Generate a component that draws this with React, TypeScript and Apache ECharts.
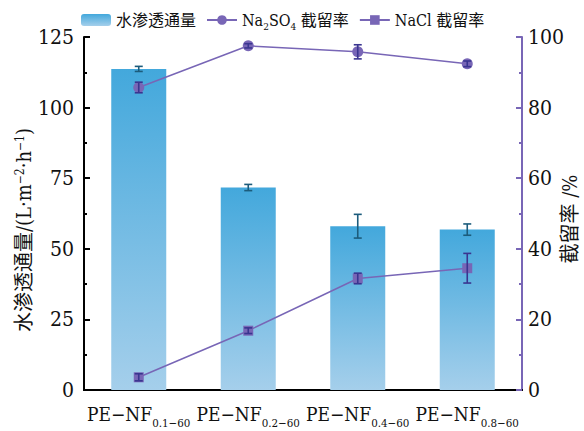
import React, { useEffect, useRef } from "react";
import * as echarts from "echarts";

const categories = ["PE−NF0.1−60", "PE−NF0.2−60", "PE−NF0.4−60", "PE−NF0.8−60"];
const subLabels = ["0.1−60", "0.2−60", "0.4−60", "0.8−60"];
const flux = [113.7, 71.7, 58.0, 56.8];
const fluxErr = [0.9, 1.1, 4.2, 2.0];
const na2so4 = [85.7, 97.5, 95.8, 92.4];
const na2so4Err = [1.5, 0.6, 2.0, 0.8];
const nacl = [3.6, 16.8, 31.6, 34.5];
const naclErr = [1.0, 0.8, 1.5, 4.2];
const leftTicks = { min: 0, max: 125, interval: 25 };
const rightTicks = { min: 0, max: 100, interval: 20 };

const FONT = "DejaVu Serif Condensed, DejaVu Serif, Noto Sans CJK SC, serif";
const PURPLE = "#7866b6";

function errRender(color: string) {
  return (params: any, api: any) => {
    const i = api.value(0);
    const v = api.value(1);
    const e = api.value(2);
    const p1 = api.coord([i, v + e]);
    const p2 = api.coord([i, v - e]);
    const w = 4;
    const st = { stroke: color, lineWidth: 1.6 };
    return {
      type: "group",
      children: [
        { type: "line", shape: { x1: p1[0], y1: p1[1], x2: p2[0], y2: p2[1] }, style: st },
        { type: "line", shape: { x1: p1[0] - w, y1: p1[1], x2: p1[0] + w, y2: p1[1] }, style: st },
        { type: "line", shape: { x1: p2[0] - w, y1: p2[1], x2: p2[0] + w, y2: p2[1] }, style: st },
      ],
    };
  };
}

export default function App() {
  const ref = useRef<HTMLDivElement>(null);
  useEffect(() => {
    const chart = echarts.init(ref.current!, null, { renderer: "svg" });
    const barColor = new echarts.graphic.LinearGradient(0, 0, 0, 1, [
      { offset: 0, color: "#43a8dc" },
      { offset: 1, color: "#a5cfeb" },
    ]);
    chart.setOption({
      animation: false,
      backgroundColor: "#ffffff",
      textStyle: { fontFamily: FONT },
      legend: {
        data: ["水渗透通量", "Na2SO4 截留率", "NaCl 截留率"],
        left: 76,
        top: 7,
        itemWidth: 30,
        itemHeight: 12,
        itemGap: 10,
        formatter: (name: string) =>
          name === "Na2SO4 截留率"
            ? "{a|Na}{s|2}{a|SO}{s|4}{a| 截留率}"
            : "{a|" + name + "}",
        textStyle: {
          color: "#111",
          fontFamily: FONT,
          rich: {
            a: { fontSize: 16, fontFamily: FONT, color: "#111" },
            s: { fontSize: 10, fontFamily: FONT, color: "#111", verticalAlign: "bottom", padding: [12, 0, 0, 0] },
          },
        },
      },
      grid: { left: 84, right: 62, top: 37, bottom: 41, outerBoundsMode: "none", containLabel: false },
      graphic: [
        {
          type: "text",
          x: 24,
          y: 230,
          rotation: Math.PI / 2,
          style: {
            text: "水渗透通量/(L·m{sup|−2}·h{sup|−1})",
            fontSize: 20,
            fontFamily: FONT,
            fill: "#111",
            align: "center",
            verticalAlign: "middle",
            rich: {
              sup: { fontSize: 12, fontFamily: FONT, fill: "#111", verticalAlign: "top" },
            },
          },
        },
        {
          type: "text",
          x: 570,
          y: 219,
          rotation: Math.PI / 2,
          style: {
            text: "截留率 /%",
            fontSize: 20,
            fontFamily: FONT,
            fill: "#111",
            align: "center",
            verticalAlign: "middle",
          },
        },
      ],
      xAxis: [
        {
          type: "category",
          data: categories,
          position: "bottom",
          axisLine: { show: true, lineStyle: { color: "#000", width: 2 } },
          axisTick: { show: true, inside: true, alignWithLabel: true, length: 5, lineStyle: { color: "#000", width: 2 } },
          axisLabel: {
            interval: 0,
            hideOverlap: false,
            margin: 10,
            fontFamily: FONT,
            formatter: (v: string, i: number) => "{a|PE−NF}{s|" + subLabels[i] + "}",
            rich: {
              a: { fontSize: 19, fontFamily: FONT, color: "#111" },
              s: { fontSize: 11.5, fontFamily: FONT, color: "#111", verticalAlign: "bottom", padding: [17, 0, 0, 0] },
            },
          },
        },
        {
          type: "category",
          data: categories,
          position: "top",
          axisLine: { show: true, lineStyle: { color: "#000", width: 2 } },
          axisTick: { show: false },
          axisLabel: { show: false },
        },
      ],
      yAxis: [
        {
          type: "value",
          position: "left",
          ...leftTicks,
          axisLine: { show: true, lineStyle: { color: "#000", width: 2 } },
          axisTick: { show: true, inside: true, length: 6, lineStyle: { color: "#000", width: 2 } },
          minorTick: { show: true, splitNumber: 2, length: 3, lineStyle: { color: "#000", width: 2 } },
          splitLine: { show: false },
          axisLabel: { fontSize: 21, fontFamily: FONT, color: "#111", margin: 10 },
        },
        {
          type: "value",
          position: "right",
          ...rightTicks,
          axisLine: { show: true, lineStyle: { color: PURPLE, width: 2 } },
          axisTick: { show: true, inside: true, length: 6, lineStyle: { color: PURPLE, width: 2 } },
          minorTick: { show: true, splitNumber: 2, length: 3, lineStyle: { color: PURPLE, width: 2 } },
          splitLine: { show: false },
          axisLabel: { fontSize: 21, fontFamily: FONT, color: "#111", margin: 6 },
        },
      ],
      series: [
        {
          name: "水渗透通量",
          type: "bar",
          data: flux,
          barWidth: 55,
          itemStyle: { color: barColor },
          z: 2,
        },
        {
          name: "Na2SO4 截留率",
          type: "line",
          yAxisIndex: 1,
          data: na2so4,
          symbol: "circle",
          symbolSize: 11,
          lineStyle: { color: PURPLE, width: 1.5 },
          itemStyle: { color: PURPLE },
          z: 3,
        },
        {
          name: "NaCl 截留率",
          type: "line",
          yAxisIndex: 1,
          data: nacl,
          symbol: "rect",
          symbolSize: 10,
          lineStyle: { color: PURPLE, width: 1.5 },
          itemStyle: { color: PURPLE },
          z: 3,
        },
        {
          type: "custom",
          yAxisIndex: 0,
          data: flux.map((v, i) => [i, v, fluxErr[i]]),
          encode: { x: 0, y: 1 },
          renderItem: errRender("#1c5c7c"),
          z: 5,
        },
        {
          type: "custom",
          yAxisIndex: 1,
          data: na2so4.map((v, i) => [i, v, na2so4Err[i]]),
          encode: { x: 0, y: 1 },
          renderItem: errRender("#3a3590"),
          z: 5,
        },
        {
          type: "custom",
          yAxisIndex: 1,
          data: nacl.map((v, i) => [i, v, naclErr[i]]),
          encode: { x: 0, y: 1 },
          renderItem: errRender("#3a3590"),
          z: 5,
        },
      ],
    });
    return () => chart.dispose();
  }, []);
  return <div ref={ref} style={{ position: "fixed", left: 0, top: 0, width: 584, height: 431 }} />;
}
